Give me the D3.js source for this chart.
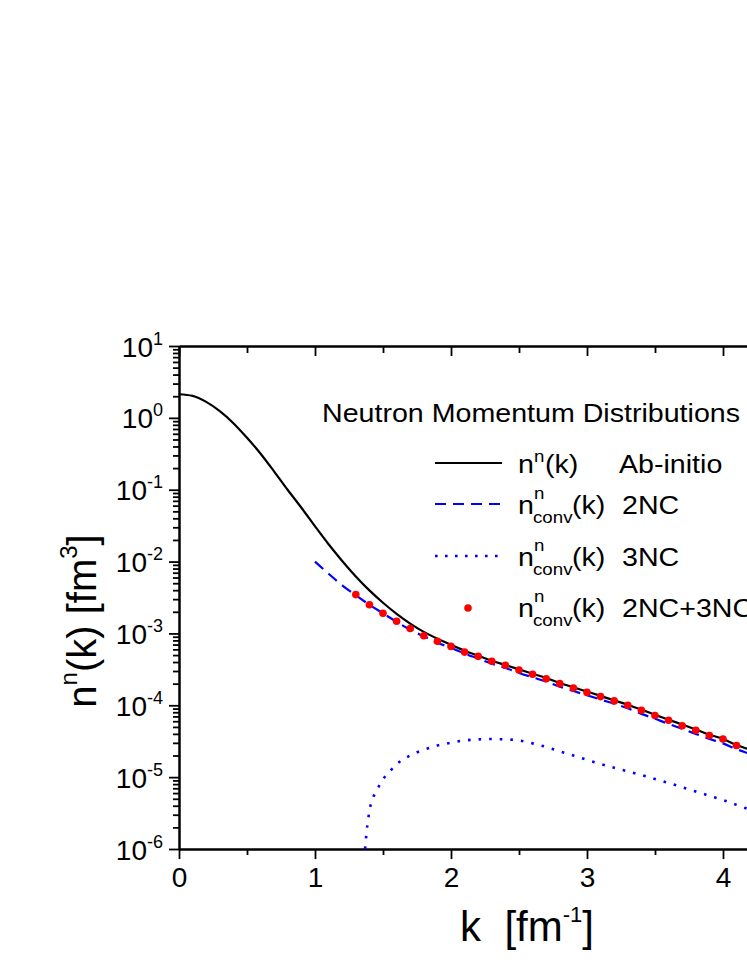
<!DOCTYPE html>
<html>
<head>
<meta charset="utf-8">
<script src="https://cdn.jsdelivr.net/npm/d3@7"></script>
<style>
  body { margin: 0; background: #fff; }
  svg { display: block; font-family: "Liberation Sans", Arial, sans-serif; }
</style>
</head>
<body>
<div id="chart"></div>
<script>
var svgWidth = 747;
var svgHeight = 967;

// plot frame (the right part runs off the page, like the reference)
var plotLeft = 179, plotTop = 346, plotBottom = 849, pxPerUnit = 136;

// ab-initio n^n(k)
var kAbInitio = [0, 0.1, 0.2, 0.3, 0.4, 0.5, 0.6, 0.7, 0.8, 0.9,
  1.0, 1.1, 1.2, 1.3, 1.4, 1.5, 1.6, 1.7, 1.8, 1.9,
  2.0, 2.1, 2.2, 2.3, 2.4, 2.5, 2.6, 2.7, 2.8, 2.9,
  3.0, 3.1, 3.2, 3.3, 3.4, 3.5, 3.6, 3.7, 3.8, 3.9,
  4.0, 4.1, 4.2, 4.3];
var nAbInitio = [2.13, 2.02, 1.67, 1.24, 0.843, 0.528, 0.317, 0.179, 0.0991, 0.0561,
  0.031, 0.0174, 0.0102, 0.00621, 0.00397, 0.00267, 0.00187, 0.00137, 0.00105, 0.000845,
  0.000695, 0.000575, 0.00049, 0.000417, 0.000363, 0.000316, 0.000275, 0.00024, 0.000204, 0.000178,
  0.000155, 0.000135, 0.000117, 0.000102, 8.7e-5, 7.4e-5, 6.3e-5, 5.4e-5, 4.6e-5, 3.9e-5,
  3.4e-5, 2.8e-5, 2.4e-5, 2.04e-5];

// convolution, 2NC
var k2NC = [1.0, 1.1, 1.2, 1.3, 1.4, 1.5, 1.6, 1.7, 1.8, 1.9,
  2.0, 2.1, 2.2, 2.3, 2.4, 2.5, 2.6, 2.7, 2.8, 2.9,
  3.0, 3.1, 3.2, 3.3, 3.4, 3.5, 3.6, 3.7, 3.8, 3.9,
  4.0, 4.1, 4.2, 4.3];
var n2NC = [0.0100, 0.00676, 0.00468, 0.00339, 0.00251, 0.00191, 0.00145, 0.00112, 0.000912, 0.000741,
  0.000631, 0.000525, 0.000447, 0.00038, 0.000331, 0.000282, 0.000245, 0.000214, 0.000182, 0.000158,
  0.000138, 0.00012, 0.000105, 9.1e-5, 7.6e-5, 6.5e-5, 5.5e-5, 4.7e-5, 4.0e-5, 3.4e-5,
  2.95e-5, 2.45e-5, 2.1e-5, 1.78e-5];

// convolution, 3NC
var k3NC = [1.368, 1.375, 1.38, 1.39, 1.40, 1.42, 1.45, 1.50, 1.55, 1.6,
  1.7, 1.8, 1.9, 2.0, 2.1, 2.2, 2.3, 2.4, 2.5, 2.6,
  2.7, 2.8, 2.9, 3.0, 3.2, 3.4, 3.6, 3.8, 4.0, 4.2, 4.4];
var n3NC = [1.0e-6, 1.41e-6, 1.78e-6, 2.51e-6, 3.39e-6, 4.79e-6, 6.31e-6, 9.33e-6, 1.20e-5, 1.51e-5,
  2.0e-5, 2.40e-5, 2.75e-5, 3.02e-5, 3.24e-5, 3.35e-5, 3.39e-5, 3.35e-5, 3.24e-5, 2.95e-5,
  2.63e-5, 2.29e-5, 2.0e-5, 1.74e-5, 1.35e-5, 1.07e-5, 8.3e-6, 6.3e-6, 4.8e-6, 3.5e-6, 2.5e-6];

// convolution, 2NC+3NC (points)
var kSum = [1.3, 1.4, 1.5, 1.6, 1.7, 1.8, 1.9, 2.0, 2.1, 2.2,
  2.3, 2.4, 2.5, 2.6, 2.7, 2.8, 2.9, 3.0, 3.1, 3.2,
  3.3, 3.4, 3.5, 3.6, 3.7, 3.8, 3.9, 4.0, 4.1];
var nSum = [3.47e-3, 2.51e-3, 1.91e-3, 1.48e-3, 1.17e-3, 9.3e-4, 7.8e-4, 6.6e-4, 5.5e-4, 4.8e-4,
  4.1e-4, 3.6e-4, 3.1e-4, 2.7e-4, 2.34e-4, 2.0e-4, 1.74e-4, 1.51e-4, 1.32e-4, 1.15e-4,
  1.0e-4, 8.5e-5, 7.2e-5, 6.2e-5, 5.2e-5, 4.5e-5, 3.8e-5, 3.4e-5, 2.75e-5];

// only 0..4 labels fall inside the page
var xMajorTicks = [0, 1, 2, 3, 4];
var xMinorTicks = [0.5, 1.5, 2.5, 3.5, 4.5];
var yMajorTicks = [1e-6, 1e-5, 1e-4, 1e-3, 1e-2, 1e-1, 1e0, 1e1];
var legendTags = ["Ab-initio", "2NC", "3NC", "2NC+3NC"];

var svg = d3.select("#chart")
  .append("svg")
  .attr("width", svgWidth)
  .attr("height", svgHeight);

svg.append("rect").attr("width", svgWidth).attr("height", svgHeight).attr("fill", "#fff");

var xScale = d3.scaleLinear()
  .domain([0, 5])
  .range([plotLeft, plotLeft + 5 * pxPerUnit]);

var yScale = d3.scaleLog()
  .domain([1e-6, 10])
  .range([plotBottom, plotTop]);

var yMinorTicks = yScale.ticks().filter(d => yMajorTicks.indexOf(d) < 0);

function styleAxis(g) {
  g.attr("font-family", null).attr("font-size", null);
  g.select(".domain").attr("stroke", "#000").attr("stroke-width", 2);
  g.selectAll(".tick line").attr("stroke", "#000").attr("stroke-width", 1.8);
}

//Bottom axis
svg.append("g")
  .attr("transform", `translate(0, ${plotBottom})`)
  .call(d3.axisBottom(xScale).tickValues(xMinorTicks).tickSize(6).tickSizeOuter(0).tickFormat(""))
  .call(styleAxis);
svg.append("g")
  .attr("transform", `translate(0, ${plotBottom})`)
  .call(d3.axisBottom(xScale).tickValues(xMajorTicks).tickSize(10).tickPadding(8).tickSizeOuter(0).tickFormat(d3.format("d")))
  .call(styleAxis)
  .selectAll(".tick text").attr("font-size", 28).attr("fill", "#000");

//Top axis, ticks pointing inward
svg.append("g")
  .attr("transform", `translate(0, ${plotTop})`)
  .call(d3.axisBottom(xScale).tickValues(xMinorTicks).tickSize(7).tickSizeOuter(0).tickFormat(""))
  .call(styleAxis);
svg.append("g")
  .attr("transform", `translate(0, ${plotTop})`)
  .call(d3.axisBottom(xScale).tickValues(xMajorTicks).tickSize(10).tickSizeOuter(0).tickFormat(""))
  .call(styleAxis);

//Left axis
svg.append("g")
  .attr("transform", `translate(${plotLeft}, 0)`)
  .call(d3.axisLeft(yScale).tickValues(yMinorTicks).tickSize(6).tickSizeOuter(0).tickFormat(""))
  .call(styleAxis);
var leftAxis = svg.append("g")
  .attr("transform", `translate(${plotLeft}, 0)`)
  .call(d3.axisLeft(yScale).tickValues(yMajorTicks).tickSize(10).tickPadding(6).tickSizeOuter(0))
  .call(styleAxis);

leftAxis.selectAll(".tick text")
  .attr("font-size", 28)
  .attr("fill", "#000")
  .attr("dy", "0.36em")
  .text(null)
  .each(function(d) {
    var t = d3.select(this);
    t.append("tspan").text("10");
    t.append("tspan").attr("dy", -12).attr("font-size", 18).text(Math.round(Math.log10(d)));
  });

//Curves
var line = (ks) => d3.line()
  .x((d, i) => xScale(ks[i]))
  .y(d => yScale(d))
  .curve(d3.curveMonotoneX);

svg.append("path")
  .attr("d", line(kAbInitio)(nAbInitio))
  .attr("fill", "none").attr("stroke", "#000").attr("stroke-width", 2.2);

svg.append("path")
  .attr("d", line(k2NC)(n2NC))
  .attr("fill", "none").attr("stroke", "#0000ff").attr("stroke-width", 2.2)
  .attr("stroke-dasharray", "11,7");

svg.append("path")
  .attr("d", line(k3NC)(n3NC))
  .attr("fill", "none").attr("stroke", "#0000ff").attr("stroke-width", 2.6)
  .attr("stroke-dasharray", "2.6,8");

svg.append("g").selectAll("circle")
  .data(nSum)
  .enter()
  .append("circle")
  .attr("cx", (d, i) => xScale(kSum[i]))
  .attr("cy", d => yScale(d))
  .attr("r", 3.8)
  .attr("fill", "#ff0000");

//Legend (glyphs are a bit wide in the reference, hence the x-stretch)
function addText(x, y, size, str) {
  return svg.append("text")
    .attr("transform", `translate(${x}, ${y}) scale(1.1, 1)`)
    .attr("font-size", size)
    .attr("fill", "#000")
    .text(str);
}

addText(322, 422, 26, "Neutron Momentum Distributions");

var rowBase = [473, 514, 566, 617];

svg.append("line").attr("x1", 435).attr("x2", 502).attr("y1", rowBase[0] - 10).attr("y2", rowBase[0] - 10)
  .attr("stroke", "#000").attr("stroke-width", 2.2);
svg.append("line").attr("x1", 435).attr("x2", 502).attr("y1", rowBase[1] - 10).attr("y2", rowBase[1] - 10)
  .attr("stroke", "#0000ff").attr("stroke-width", 2.2).attr("stroke-dasharray", "11,7");
svg.append("line").attr("x1", 435).attr("x2", 502).attr("y1", rowBase[2] - 10).attr("y2", rowBase[2] - 10)
  .attr("stroke", "#0000ff").attr("stroke-width", 2.6).attr("stroke-dasharray", "2.6,7.4");
svg.append("circle").attr("cx", 468).attr("cy", rowBase[3] - 9).attr("r", 3.8).attr("fill", "#ff0000");

addText(518, rowBase[0], 26, "n");
addText(534, rowBase[0] - 11, 17, "n");
addText(545, rowBase[0], 26, "(k)");
addText(619, rowBase[0], 26, legendTags[0]);

rowBase.slice(1).forEach(function(b, i) {
  addText(518, b, 26, "n");
  addText(534, b - 15, 17, "n");
  addText(533, b + 9, 17, "conv");
  addText(572, b, 26, "(k)");
  addText(622, b, 26, legendTags[i + 1]);
});

//Axis labels
var yLabel = svg.append("text")
  .attr("transform", "translate(96, 621) rotate(-90)")
  .attr("text-anchor", "middle")
  .attr("font-size", 40)
  .attr("fill", "#000")
  .style("white-space", "pre");
yLabel.append("tspan").text("n");
yLabel.append("tspan").attr("dy", -19).attr("font-size", 24).text("n");
yLabel.append("tspan").attr("dy", 19).text("(k) [fm");
yLabel.append("tspan").attr("dy", -19).attr("font-size", 24).text("3");
yLabel.append("tspan").attr("dy", 19).text("]");

var xLabel = svg.append("text")
  .attr("x", 527)
  .attr("y", 941)
  .attr("text-anchor", "middle")
  .attr("font-size", 42)
  .attr("fill", "#000")
  .style("white-space", "pre");
xLabel.append("tspan").text("k  [fm");
xLabel.append("tspan").attr("dy", -19).attr("font-size", 22).text("-1");
xLabel.append("tspan").attr("dy", 19).text("]");
</script>
</body>
</html>
